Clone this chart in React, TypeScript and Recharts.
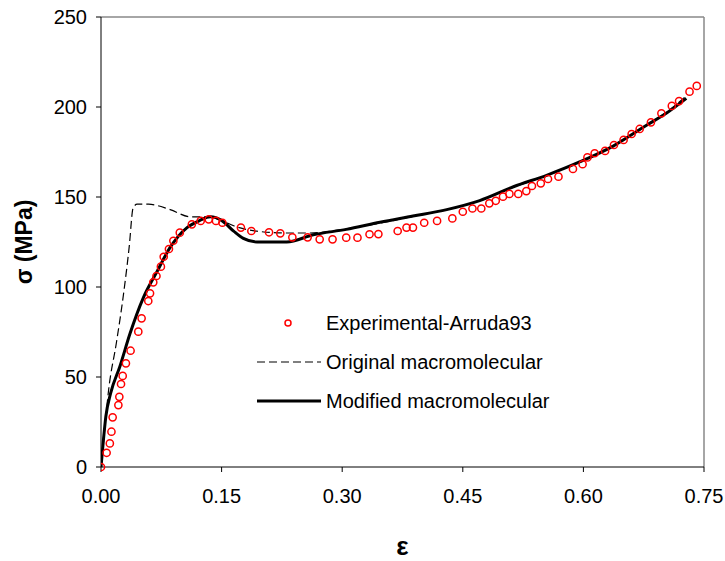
import React from "react";
import {
  ComposedChart,
  XAxis,
  YAxis,
  Line,
  Scatter,
  ReferenceLine,
  Label,
} from "recharts";

// experimental points (strain, stress MPa)
const expStrain = [
  0, 0.007, 0.011, 0.013, 0.0145, 0.0216, 0.0228, 0.0249, 0.027, 0.031, 0.0368,
  0.0464, 0.0505, 0.0588, 0.061, 0.065, 0.069, 0.0745, 0.078, 0.0845, 0.09,
  0.098, 0.113, 0.124, 0.134, 0.143, 0.151, 0.174, 0.187, 0.209, 0.223, 0.238,
  0.257, 0.272, 0.288, 0.305, 0.319, 0.334, 0.345, 0.369, 0.38, 0.388, 0.402,
  0.418, 0.437, 0.45, 0.462, 0.473, 0.483, 0.491, 0.5, 0.508, 0.519, 0.529,
  0.536, 0.547, 0.556, 0.569, 0.587, 0.599, 0.605, 0.614, 0.627, 0.638, 0.65,
  0.66, 0.67, 0.684, 0.697, 0.71, 0.719, 0.732, 0.741,
];
const expStress = [
  0, 7.9, 13.1, 19.6, 27.6, 34.4, 39, 46.1, 50.6, 57.6, 64.6, 75.2, 82.6, 92.2,
  96.5, 102.6, 106.1, 111.3, 116.8, 121.1, 125.7, 130.2, 134.8, 136.7, 137.6,
  136.7, 135.7, 133, 131.1, 130.4, 129.8, 127.6, 127.6, 126.5, 126.5, 127.4,
  127.4, 129.3, 129.4, 131.1, 133, 133, 135.7, 136.7, 138.1, 141.8, 143.6,
  143.6, 146.5, 147.9, 150.2, 151.7, 151.7, 153.3, 156.1, 157.6, 160, 161.3,
  165.6, 168.2, 172, 174.3, 175.6, 178.9, 181.7, 185, 187.8, 191.5, 196.5,
  200.6, 203.3, 208.5, 211.7,
];

// original macromolecular model
const origStrain = [
  0, 0.004, 0.009, 0.0195, 0.0277, 0.035, 0.04, 0.045, 0.059, 0.086, 0.111,
  0.131, 0.15, 0.165, 0.194, 0.23, 0.26, 0.3, 0.347, 0.388, 0.43, 0.471, 0.513,
  0.555, 0.596, 0.637, 0.679, 0.703, 0.73,
];
const origStress = [
  0, 18, 41, 70, 95, 122, 144, 146, 146, 143, 139, 139, 137, 134, 131, 130,
  130, 132, 135.5, 139.2, 143, 148, 155.5, 162, 169.6, 178.3, 190, 197, 207,
];

// modified macromolecular model
const modStrain = [
  0, 0.003, 0.006, 0.012, 0.0236, 0.036, 0.0526, 0.069, 0.086, 0.107, 0.123,
  0.136, 0.15, 0.165, 0.177, 0.194, 0.231, 0.264, 0.305, 0.347, 0.388, 0.43,
  0.471, 0.513, 0.555, 0.596, 0.637, 0.679, 0.703, 0.728,
];
const modStress = [
  0, 15, 28, 41, 56, 74, 94, 108, 122, 133, 137, 139, 137, 131, 127, 125, 125,
  129, 132, 136, 139.4, 143, 148, 155.7, 162.2, 169.6, 178.3, 190, 196.5, 204.8,
];

const xTicks = [0, 0.15, 0.3, 0.45, 0.6, 0.75];
const yTicks = [0, 50, 100, 150, 200, 250];

const zip = (xs: number[], ys: number[]) =>
  xs.map((e, i) => ({ e, s: ys[i] }));

const expData = zip(expStrain, expStress);
const origData = zip(origStrain, origStress);
const modData = zip(modStrain, modStress);

const font = "'Liberation Sans', Arial, sans-serif";

const OpenCircle = (props: any) => (
  <circle
    cx={props.cx}
    cy={props.cy}
    r={3.6}
    fill="none"
    stroke="#ff0000"
    strokeWidth={1.5}
  />
);

export default function App() {
  return (
    <div style={{ position: "absolute", left: 0, top: 0, width: 725, height: 561 }}>
      <ComposedChart
        width={725}
        height={561}
        margin={{ top: 17, right: 21, left: 0, bottom: 0 }}
      >
        <XAxis
          type="number"
          dataKey="e"
          domain={[0, 0.75]}
          ticks={xTicks}
          tickFormatter={(v: number) => v.toFixed(2)}
          height={94}
          tickSize={5}
          stroke="#000"
          tick={{ fill: "#000", fontSize: 20, fontFamily: font, dy: 15 }}
          allowDataOverflow
        >
          <Label
            value="ε"
            position="insideBottom"
            offset={6}
            style={{ fontSize: 26, fontWeight: "bold", fill: "#000", fontFamily: font }}
          />
        </XAxis>
        <YAxis
          type="number"
          domain={[0, 250]}
          ticks={yTicks}
          width={101}
          tickSize={5}
          stroke="#000"
          tick={{ fill: "#000", fontSize: 20, fontFamily: font, dx: -7 }}
        >
          <Label
            value="σ (MPa)"
            angle={-90}
            position="insideLeft"
            offset={24}
            style={{
              fontSize: 23,
              fontWeight: "bold",
              fill: "#000",
              fontFamily: font,
              textAnchor: "middle",
            }}
          />
        </YAxis>
        <ReferenceLine y={250} stroke="#888" strokeWidth={1.5} />
        <ReferenceLine x={0.75} stroke="#888" strokeWidth={1.5} />
        <Line
          data={origData}
          dataKey="s"
          type="monotone"
          stroke="#000"
          strokeWidth={1.2}
          strokeDasharray="8 4"
          dot={false}
          isAnimationActive={false}
        />
        <Line
          data={modData}
          dataKey="s"
          type="monotone"
          stroke="#000"
          strokeWidth={3}
          dot={false}
          isAnimationActive={false}
        />
        <Scatter
          data={expData}
          dataKey="s"
          shape={OpenCircle}
          isAnimationActive={false}
        />
      </ComposedChart>
      <svg
        width={725}
        height={561}
        style={{ position: "absolute", left: 0, top: 0, pointerEvents: "none" }}
      >
        <g fontFamily={font} fontSize={20} fill="#000">
          <circle cx={288} cy={323} r={3} fill="none" stroke="#ff0000" strokeWidth={1.5} />
          <text x={326} y={330}>Experimental-Arruda93</text>
          <line x1={257} y1={362} x2={321} y2={362} stroke="#000" strokeWidth={1.2} strokeDasharray="8 4" />
          <text x={326} y={369}>Original macromolecular</text>
          <line x1={257} y1={401} x2={321} y2={401} stroke="#000" strokeWidth={3} />
          <text x={326} y={408}>Modified macromolecular</text>
        </g>
      </svg>
    </div>
  );
}
